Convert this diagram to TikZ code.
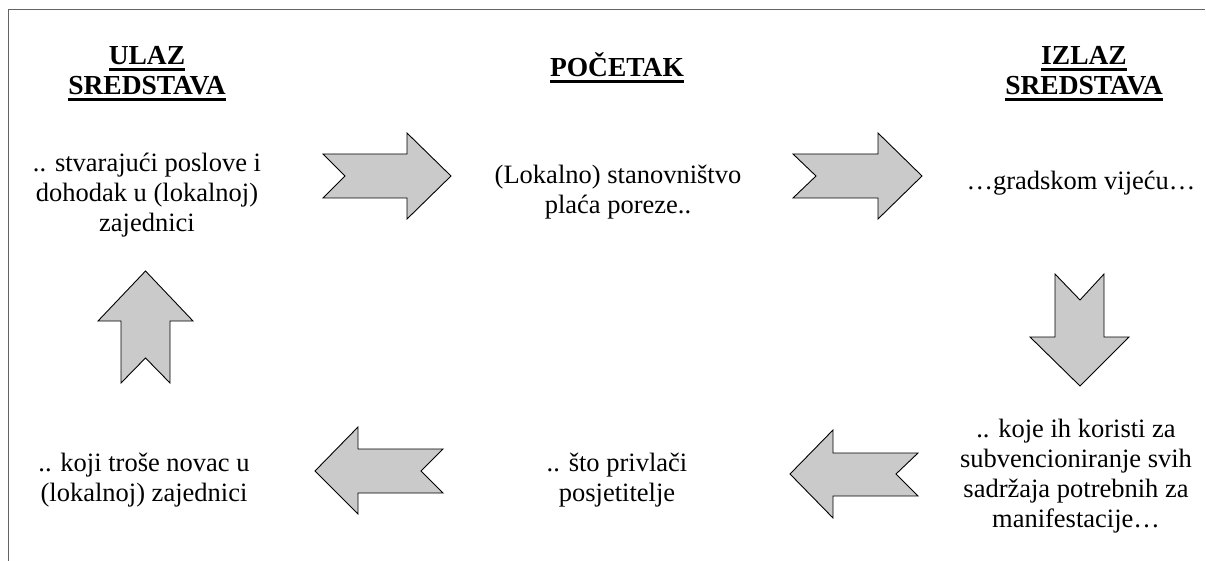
\documentclass[tikz,border=0pt]{standalone}
\usepackage{fontspec}
\setmainfont{Liberation Serif}
\newcommand\ulword[1]{\setbox0=\hbox{#1}\rlap{\rule[-6.3pt]{\wd0}{2.8pt}}\box0}
\definecolor{arrowgray}{RGB}{202,202,202}
\definecolor{framegray}{RGB}{100,100,100}
\begin{document}
\begin{tikzpicture}[x=1pt,y=-1pt,
  txt/.style={inner sep=0pt, outer sep=0pt, align=center, font=\fontsize{26.5}{30}\selectfont},
  ttl/.style={txt, font=\fontsize{27.5}{30}\selectfont\bfseries},
  blockarr/.style={draw=black, line width=0.9pt, fill=arrowgray, line join=miter},
  framestyle/.style={draw=framegray, line width=1pt}]
\useasboundingbox (0,0) rectangle (1206,561);
% frame (top and left edges)
\draw[framestyle] (8,561) -- (8,10) -- (1205,10);
% titles
\node[ttl] (ulaz) at (147,73.5) {\ulword{ULAZ}\\\ulword{SREDSTAVA}};
\node[ttl, anchor=base] (pocetak) at (617,77) {\ulword{POČETAK}};
\node[ttl] (izlaz) at (1084,73.5) {\ulword{IZLAZ}\\\ulword{SREDSTAVA}};
% texts
\node[txt] (t1) at (147,195) {.. stvarajući poslove i\\dohodak u (lokalnoj)\\zajednici};
\node[txt] (t2) at (618,192) {(Lokalno) stanovništvo\\plaća poreze..};
\node[txt, anchor=base] (t3) at (1081,190) {…gradskom vijeću…};
\node[txt] (t4) at (1076,476) {.. koje ih koristi za\\subvencioniranje svih\\sadržaja potrebnih za\\manifestacije…};
\node[txt] (t5) at (617,480) {.. što privlači\\posjetitelje};
\node[txt] (t6) at (144,480) {.. koji troše novac u\\(lokalnoj) zajednici};
% block arrows
\draw[blockarr] (323,154) -- (407,154) -- (407,133) -- (451,176) -- (407,219) -- (407,198) -- (323,198) -- (345,176) -- cycle;
\draw[blockarr] (793,154) -- (878,154) -- (878,133) -- (922,176) -- (878,219) -- (878,198) -- (793,198) -- (816,176) -- cycle;
\draw[blockarr] (1055,274) -- (1080,300) -- (1104,274) -- (1104,337) -- (1129,337) -- (1080,386) -- (1030,337) -- (1055,337) -- cycle;
\draw[blockarr] (918,453) -- (833,453) -- (833,430) -- (790,474) -- (833,518) -- (833,496) -- (918,496) -- (896,474) -- cycle;
\draw[blockarr] (443,449) -- (358,449) -- (358,427) -- (315,471) -- (358,514) -- (358,493) -- (443,493) -- (421,471) -- cycle;
\draw[blockarr] (121,383) -- (145.5,358) -- (170,383) -- (170,321) -- (193,321) -- (145.5,271) -- (98,321) -- (121,321) -- cycle;
\end{tikzpicture}
\end{document}
